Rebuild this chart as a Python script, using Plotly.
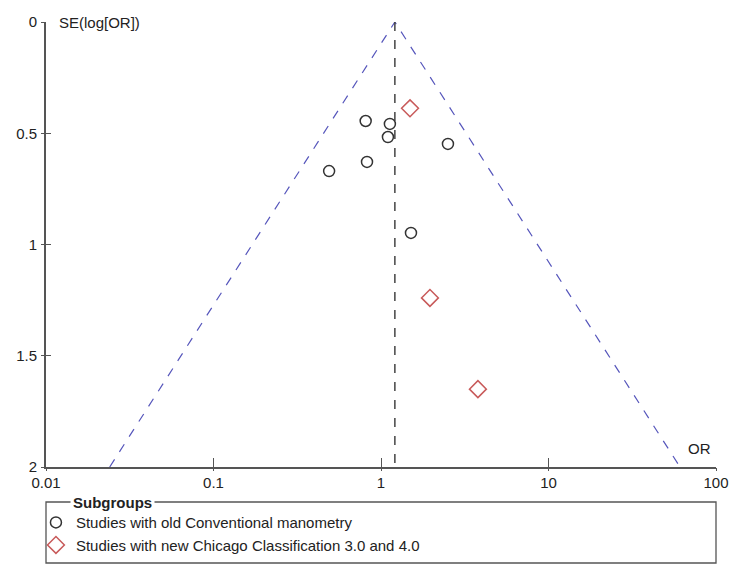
import numpy as np
import plotly.graph_objects as go

# Data
old_or = [0.81, 1.13, 1.10, 2.51, 0.825, 0.49, 1.51]
old_se = [0.445, 0.458, 0.517, 0.548, 0.629, 0.67, 0.948]
new_or = [1.49, 1.96, 3.79]
new_se = [0.388, 1.24, 1.65]
pooled_or = 1.21
se_max = 2.0
x_ticks = [0.01, 0.1, 1, 10, 100]
x_ticklabels = ["0.01", "0.1", "1", "10", "100"]
y_ticks = [0, 0.5, 1, 1.5, 2]
y_ticklabels = ["0", "0.5", "1", "1.5", "2"]

FONT = "Liberation Sans, Arial, sans-serif"
AX = "#555555"
FS = 15

se_line = np.array([se_max, 0.0, se_max])
funnel_x = np.exp(np.log(pooled_or) + np.array([-1.96, 0.0, 1.96]) * se_line)

fig = go.Figure()
fig.add_trace(go.Scatter(x=funnel_x, y=se_line, mode="lines",
                         line=dict(color="#5555bb", width=1.2, dash="dash"),
                         showlegend=False, hoverinfo="skip"))
fig.add_trace(go.Scatter(x=[pooled_or, pooled_or], y=[0, se_max], mode="lines",
                         line=dict(color="#444444", width=1.5, dash="dash"),
                         showlegend=False, hoverinfo="skip"))
fig.add_trace(go.Scatter(x=old_or, y=old_se, mode="markers",
                         name="Studies with old Conventional manometry",
                         marker=dict(symbol="circle-open", size=11, color="#333333",
                                     line=dict(width=1.5, color="#333333"))))
fig.add_trace(go.Scatter(x=new_or, y=new_se, mode="markers",
                         name="Studies with new Chicago Classification 3.0 and 4.0",
                         marker=dict(symbol="diamond-open", size=13, color="#c85a5a",
                                     line=dict(width=1.5, color="#c85a5a"))))

# duplicate axes for ticks crossing the axis line
fig.add_trace(go.Scatter(x=[None], y=[None], xaxis="x2", yaxis="y2", showlegend=False))

common_font = dict(family=FONT, size=FS, color="#222222")
fig.update_layout(
    width=750, height=574,
    margin=dict(l=46, r=34, t=22, b=107),
    paper_bgcolor="white", plot_bgcolor="white",
    font=common_font,
    xaxis=dict(type="log", range=[-2, 2], tickvals=x_ticks, ticktext=x_ticklabels,
               ticks="inside", ticklen=9, tickwidth=1.2, tickcolor=AX,
               showline=True, linecolor=AX, linewidth=1.8, showgrid=False,
               zeroline=False, tickfont=common_font, ticklabelstandoff=1),
    yaxis=dict(range=[2, 0], tickvals=y_ticks, ticktext=y_ticklabels,
               ticks="outside", ticklen=3, tickwidth=1.2, tickcolor=AX,
               showline=True, linecolor=AX, linewidth=1.8, showgrid=False,
               zeroline=False, tickfont=common_font, ticklabelstandoff=1),
    xaxis2=dict(type="log", range=[-2, 2], overlaying="x", anchor="y2", side="bottom",
                tickvals=x_ticks, showticklabels=False, ticks="outside", ticklen=3,
                tickwidth=1.2, tickcolor=AX, showline=False, showgrid=False, zeroline=False),
    yaxis2=dict(range=[2, 0], overlaying="y", anchor="x2", side="left",
                tickvals=y_ticks, showticklabels=False, ticks="inside", ticklen=5,
                tickwidth=1.2, tickcolor=AX, showline=False, showgrid=False, zeroline=False),
    legend=dict(x=-0.015, xanchor="left", y=-0.088, yanchor="top",
                bgcolor="rgba(0,0,0,0)", borderwidth=0,
                font=dict(family=FONT, size=FS, color="#222222"),
                tracegroupgap=0, itemwidth=30),
    showlegend=True,
)

# legend frame
fig.add_shape(type="rect", xref="paper", yref="paper", x0=0, x1=1, y0=-0.2157, y1=-0.0787,
              line=dict(color="#555555", width=1.3), fillcolor="rgba(0,0,0,0)")
fig.add_annotation(xref="paper", yref="paper", x=0.036, y=-0.0787, xanchor="left", yanchor="middle",
                   text="<b>Subgroups</b>", showarrow=False, bgcolor="white",
                   font=dict(family=FONT, size=FS, color="#222222"), borderpad=2)
# axis titles
fig.add_annotation(xref="paper", yref="paper", x=0.016, y=1.0, xanchor="left", yanchor="middle",
                   text="SE(log[OR])", showarrow=False,
                   font=dict(family=FONT, size=FS, color="#222222"))
fig.add_annotation(xref="paper", yref="paper", x=0.996, y=0.018, xanchor="right", yanchor="bottom",
                   text="OR", showarrow=False,
                   font=dict(family=FONT, size=FS, color="#222222"))

fig.write_html("out.html")
